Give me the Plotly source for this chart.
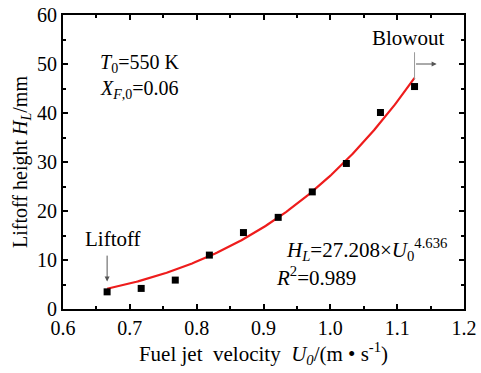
import numpy as np
import plotly.graph_objects as go

# Measured liftoff heights versus fuel jet velocity
velocity = [0.666, 0.717, 0.768, 0.819, 0.870, 0.922, 0.973, 1.024, 1.075, 1.126]
liftoff_height = [3.5, 4.2, 5.9, 11.0, 15.6, 18.7, 23.9, 29.7, 40.1, 45.4]

# Power-law fit H_L = A * U0^n
fit_coef = 27.208
fit_exp = 4.636
fit_r2 = 0.989

x_ticks = [0.6, 0.7, 0.8, 0.9, 1.0, 1.1, 1.2]
y_ticks = [0, 10, 20, 30, 40, 50, 60]

FONT = "Liberation Serif"

u_fit = np.linspace(velocity[0], velocity[-1], 200)
h_fit = fit_coef * u_fit ** fit_exp

fig = go.Figure()
fig.add_trace(go.Scatter(x=u_fit, y=h_fit, mode="lines",
                         line=dict(color="#ee1c1c", width=2.2),
                         hoverinfo="skip", showlegend=False))
fig.add_trace(go.Scatter(x=velocity, y=liftoff_height, mode="markers",
                         marker=dict(symbol="square", size=7, color="black"),
                         showlegend=False))

axis_common = dict(
    showgrid=False, zeroline=False, showline=True, linecolor="black",
    linewidth=2, mirror="ticks", ticks="inside", ticklen=5, tickwidth=1.5,
    tickcolor="black", tickfont=dict(family=FONT, size=20, color="black"),
    automargin=False,
)
fig.update_xaxes(range=[0.6, 1.2], tickvals=x_ticks,
                 ticktext=[f"{v:.1f}" for v in x_ticks],
                 minor=dict(ticks="inside", dtick=0.05, ticklen=3,
                            tickwidth=1.5, tickcolor="black"),
                 title=dict(text="Fuel jet  velocity  <i>U<sub>0</sub></i>/(m • s<sup>-1</sup>)",
                            font=dict(family=FONT, size=21, color="black"),
                            standoff=6),
                 **axis_common)
fig.update_yaxes(range=[0, 60], tickvals=y_ticks,
                 minor=dict(ticks="inside", dtick=5, ticklen=3,
                            tickwidth=1.5, tickcolor="black"),
                 title=dict(text="Liftoff height <i>H<sub>L</sub></i>/mm",
                            font=dict(family=FONT, size=20, color="black"),
                            standoff=4),
                 **axis_common)

txt = dict(family=FONT, size=20, color="black")
txt21 = dict(family=FONT, size=21, color="black")
annotations = [
    dict(x=0.652, y=50.2, text="<i>T</i><sub>0</sub>=550 K", xanchor="left",
         yanchor="middle", showarrow=False, font=txt),
    dict(x=0.652, y=44.7, text="<i>X<sub>F</sub></i><sub>,0</sub>=0.06", xanchor="left",
         yanchor="middle", showarrow=False, font=txt),
    dict(x=0.93, y=12.1,
         text=f"<i>H<sub>L</sub></i>={fit_coef:.3f}×<i>U</i><sub>0</sub><sup>{fit_exp:.3f}</sup>",
         xanchor="left", yanchor="middle", showarrow=False, font=txt21),
    dict(x=0.915, y=6.6, text=f"<i>R</i><sup>2</sup>={fit_r2:.3f}", xanchor="left",
         yanchor="middle", showarrow=False, font=txt21),
    dict(x=1.117, y=55.3, text="Blowout", xanchor="center", yanchor="middle",
         showarrow=False, font=txt21),
    dict(x=0.675, y=14.3, text="Liftoff", xanchor="center", yanchor="middle",
         showarrow=False, font=txt21),
    # liftoff arrow
    dict(x=velocity[0], y=5.6, ax=velocity[0], ay=11.2, xref="x", yref="y",
         axref="x", ayref="y", text="", showarrow=True, arrowhead=2,
         arrowsize=1, arrowwidth=1, arrowcolor="#555555"),
    # blowout arrow
    dict(x=1.159, y=50.0, ax=velocity[-1], ay=50.0, xref="x", yref="y",
         axref="x", ayref="y", text="", showarrow=True, arrowhead=2,
         arrowsize=1, arrowwidth=1, arrowcolor="#555555"),
]
fig.update_layout(annotations=annotations)
fig.add_shape(type="line", x0=velocity[-1], x1=velocity[-1], y0=52.4, y1=46.8,
              xref="x", yref="y", line=dict(color="#999999", width=1))

fig.update_layout(width=481, height=373, margin=dict(l=63, r=17, t=15, b=64),
                  paper_bgcolor="white", plot_bgcolor="white")
fig.write_html("out.html")
